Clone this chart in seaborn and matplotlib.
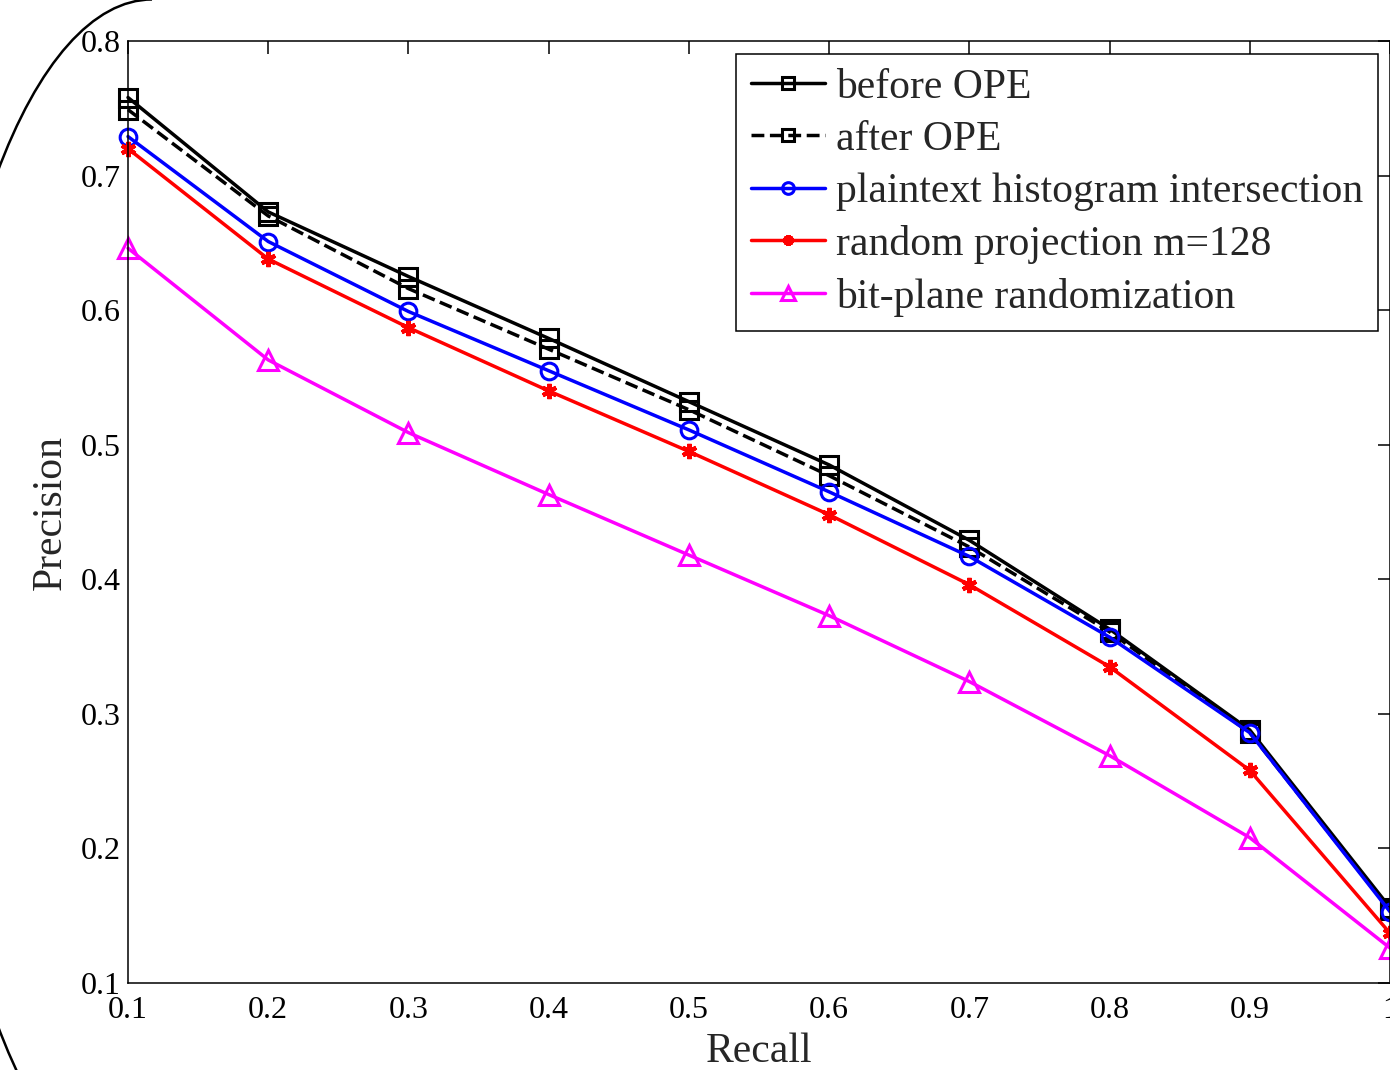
import matplotlib
matplotlib.use("Agg")
import matplotlib.pyplot as plt
from matplotlib.patches import Arc
import seaborn as sns

# values
recall = [0.1, 0.2, 0.3, 0.4, 0.5, 0.6, 0.7, 0.8, 0.9, 1.0]
before_ope = [0.758, 0.673, 0.625, 0.579, 0.532, 0.485, 0.429, 0.363, 0.288, 0.156]
after_ope = [0.749, 0.670, 0.616, 0.571, 0.526, 0.477, 0.424, 0.361, 0.286, 0.154]
plaintext_hist = [0.729, 0.651, 0.599, 0.555, 0.511, 0.465, 0.417, 0.357, 0.286, 0.153]
random_proj = [0.720, 0.638, 0.587, 0.540, 0.495, 0.448, 0.396, 0.335, 0.258, 0.137]
bit_plane = [0.646, 0.563, 0.509, 0.463, 0.418, 0.373, 0.324, 0.269, 0.208, 0.126]

labels = ["before OPE", "after OPE", "plaintext histogram intersection",
          "random projection m=128", "bit-plane randomization"]
xticks = [0.1, 0.2, 0.3, 0.4, 0.5, 0.6, 0.7, 0.8, 0.9, 1.0]
xticklabels = ["0.1", "0.2", "0.3", "0.4", "0.5", "0.6", "0.7", "0.8", "0.9", "1"]
yticks = [0.1, 0.2, 0.3, 0.4, 0.5, 0.6, 0.7, 0.8]

sns.set_style("white")
plt.rcParams["font.family"] = ["Liberation Serif", "DejaVu Serif"]

fig = plt.figure(figsize=(13.9, 10.7), dpi=100)
ax = fig.add_axes([128 / 1390, 87 / 1070, 1262 / 1390, 942 / 1070])

series = [
    (before_ope, "black", "-", "s", 13, 2.2),
    (after_ope, "black", "--", "s", 13, 2.2),
    (plaintext_hist, "blue", "-", "o", 12, 2.2),
    (random_proj, "red", "-", (6, 2, 0), 11, 3.0),
    (bit_plane, "magenta", "-", "^", 14, 2.2),
]

for (vals, color, ls, marker, ms, mew), label in zip(series, labels):
    sns.lineplot(x=recall, y=vals, ax=ax, color=color, linestyle=ls,
                 linewidth=2.5, marker=marker, markersize=ms,
                 markerfacecolor="none", markeredgecolor=color,
                 markeredgewidth=mew, label=label, clip_on=False,
                 dashes=(3.0, 1.9) if ls == "--" else None)

ax.set_xlim(0.1, 1.0)
ax.set_ylim(0.1, 0.8)
ax.set_xticks(xticks)
ax.set_xticklabels(xticklabels)
ax.set_yticks(yticks)
ax.set_yticklabels([f"{v:.1f}" for v in yticks])
ax.tick_params(direction="in", length=9, width=1.1, top=True, right=True,
               labelsize=23, colors="black")
ax.tick_params(axis="x", pad=9.5)
ax.tick_params(axis="y", pad=5)
for sp in ax.spines.values():
    sp.set_visible(True)
    sp.set_color("black")
    sp.set_linewidth(1.1)

ax.set_xlabel("Recall", fontsize=30, labelpad=5)
ax.set_ylabel("Precision", fontsize=30, labelpad=8)

leg = ax.legend(loc="upper right", fontsize=30, frameon=True, fancybox=False,
                edgecolor="black", framealpha=1, handlelength=1.78,
                handletextpad=0.25, labelspacing=0.33, borderpad=0.35,
                borderaxespad=0.3, markerscale=0.7)
leg.get_frame().set_linewidth(1.1)

# the curved stroke at the left edge of the crop (left half of a large ellipse)
arc = Arc((152 / 1390, 471.5 / 1070), 440 / 1390, 1198 / 1070,
          theta1=90, theta2=270, transform=fig.transFigure,
          edgecolor="black", linewidth=1.8, clip_on=False)
fig.patches.append(arc)

fig.savefig("out.png", dpi=100)
